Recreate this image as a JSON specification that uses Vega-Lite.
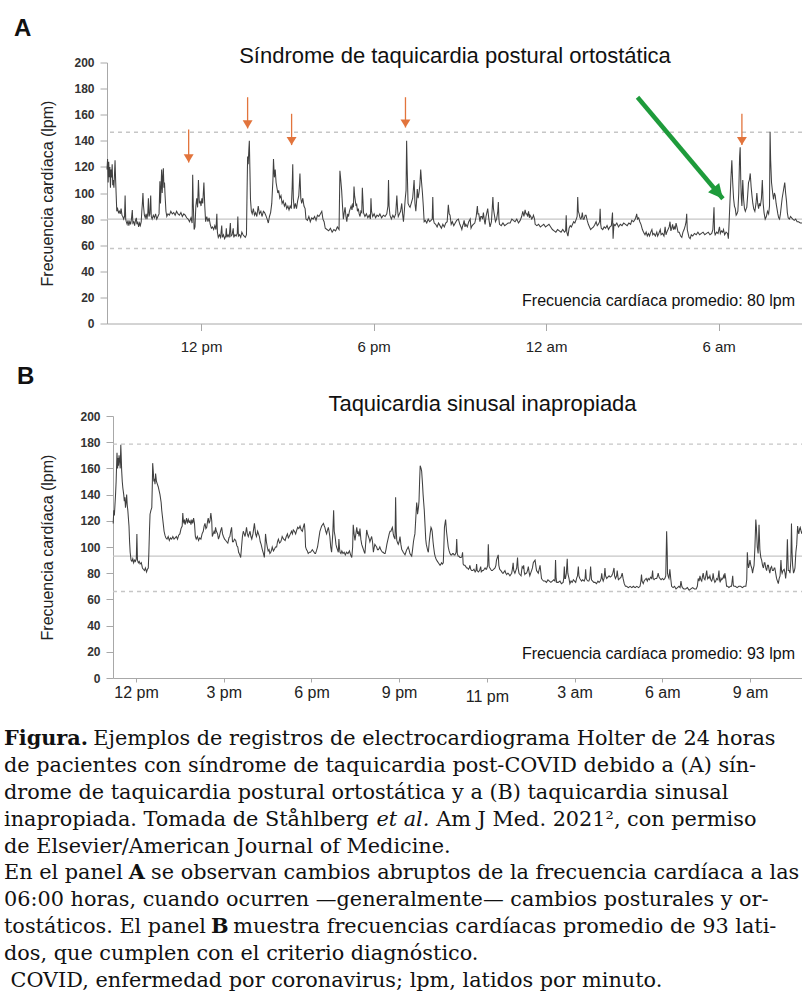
{
"$schema":"https://vega.github.io/schema/vega-lite/v6.json",
"background":"white",
"padding":{"left":4,"top":16.5,"right":0,"bottom":0},
"spacing":10.5,
"config":{"font":"Liberation Sans","view":{"stroke":null},"axis":{"grid":false,"domainColor":"#a8a8a8","tickColor":"#a8a8a8","labelColor":"#222222","titleColor":"#222222"}},
"datasets":{
"A":[{"h":8.73,"v":118},{"h":8.75,"v":126},{"h":8.77,"v":108},{"h":8.79,"v":124},{"h":8.81,"v":112},{"h":8.83,"v":120},{"h":8.85,"v":104},{"h":8.87,"v":118},{"h":8.89,"v":112},{"h":8.91,"v":122},{"h":8.93,"v":106},{"h":8.95,"v":110},{"h":8.97,"v":104},{"h":8.99,"v":114},{"h":9.01,"v":125},{"h":9.03,"v":110},{"h":9.05,"v":98},{"h":9.07,"v":86},{"h":9.10,"v":88},{"h":9.13,"v":85},{"h":9.16,"v":86},{"h":9.19,"v":84},{"h":9.22,"v":88},{"h":9.25,"v":83},{"h":9.28,"v":82},{"h":9.31,"v":80},{"h":9.34,"v":82},{"h":9.36,"v":98},{"h":9.38,"v":80},{"h":9.40,"v":78},{"h":9.43,"v":76},{"h":9.46,"v":79},{"h":9.49,"v":75},{"h":9.52,"v":78},{"h":9.55,"v":76},{"h":9.58,"v":80},{"h":9.61,"v":87},{"h":9.63,"v":77},{"h":9.66,"v":78},{"h":9.69,"v":75},{"h":9.72,"v":79},{"h":9.75,"v":81},{"h":9.77,"v":76},{"h":9.80,"v":78},{"h":9.83,"v":74},{"h":9.86,"v":77},{"h":9.89,"v":75},{"h":9.92,"v":78},{"h":9.94,"v":86},{"h":9.96,"v":92},{"h":9.98,"v":100},{"h":10.00,"v":90},{"h":10.03,"v":83},{"h":10.06,"v":81},{"h":10.09,"v":84},{"h":10.12,"v":80},{"h":10.15,"v":85},{"h":10.17,"v":96},{"h":10.19,"v":82},{"h":10.22,"v":84},{"h":10.25,"v":98},{"h":10.27,"v":82},{"h":10.30,"v":80},{"h":10.34,"v":83},{"h":10.38,"v":81},{"h":10.42,"v":84},{"h":10.46,"v":80},{"h":10.50,"v":82},{"h":10.54,"v":84},{"h":10.57,"v":109},{"h":10.59,"v":92},{"h":10.61,"v":104},{"h":10.63,"v":118},{"h":10.65,"v":100},{"h":10.67,"v":112},{"h":10.69,"v":119},{"h":10.71,"v":104},{"h":10.73,"v":108},{"h":10.75,"v":98},{"h":10.78,"v":86},{"h":10.81,"v":82},{"h":10.85,"v":84},{"h":10.90,"v":83},{"h":10.95,"v":86},{"h":11.00,"v":84},{"h":11.05,"v":85},{"h":11.10,"v":83},{"h":11.15,"v":86},{"h":11.20,"v":84},{"h":11.25,"v":83},{"h":11.30,"v":85},{"h":11.35,"v":82},{"h":11.40,"v":84},{"h":11.45,"v":83},{"h":11.50,"v":81},{"h":11.55,"v":80},{"h":11.60,"v":78},{"h":11.65,"v":81},{"h":11.69,"v":77},{"h":11.71,"v":114},{"h":11.73,"v":92},{"h":11.76,"v":72},{"h":11.79,"v":74},{"h":11.82,"v":90},{"h":11.85,"v":96},{"h":11.88,"v":89},{"h":11.91,"v":110},{"h":11.94,"v":92},{"h":11.97,"v":94},{"h":12.00,"v":90},{"h":12.03,"v":96},{"h":12.06,"v":92},{"h":12.10,"v":108},{"h":12.13,"v":90},{"h":12.16,"v":78},{"h":12.20,"v":82},{"h":12.24,"v":78},{"h":12.28,"v":81},{"h":12.32,"v":76},{"h":12.36,"v":73},{"h":12.40,"v":74},{"h":12.44,"v":72},{"h":12.48,"v":75},{"h":12.52,"v":72},{"h":12.55,"v":84},{"h":12.57,"v":70},{"h":12.60,"v":66},{"h":12.64,"v":68},{"h":12.68,"v":66},{"h":12.72,"v":75},{"h":12.74,"v":66},{"h":12.78,"v":68},{"h":12.82,"v":65},{"h":12.86,"v":67},{"h":12.88,"v":73},{"h":12.90,"v":66},{"h":12.94,"v":68},{"h":12.98,"v":66},{"h":13.02,"v":77},{"h":13.04,"v":67},{"h":13.08,"v":68},{"h":13.12,"v":73},{"h":13.14,"v":66},{"h":13.18,"v":68},{"h":13.22,"v":67},{"h":13.26,"v":69},{"h":13.28,"v":82},{"h":13.30,"v":67},{"h":13.34,"v":68},{"h":13.38,"v":66},{"h":13.42,"v":70},{"h":13.46,"v":68},{"h":13.50,"v":67},{"h":13.54,"v":66},{"h":13.58,"v":68},{"h":13.60,"v":100},{"h":13.62,"v":128},{"h":13.64,"v":122},{"h":13.66,"v":132},{"h":13.68,"v":140},{"h":13.70,"v":118},{"h":13.72,"v":95},{"h":13.75,"v":86},{"h":13.78,"v":84},{"h":13.82,"v":88},{"h":13.86,"v":83},{"h":13.90,"v":85},{"h":13.94,"v":82},{"h":13.99,"v":90},{"h":14.03,"v":84},{"h":14.08,"v":86},{"h":14.12,"v":82},{"h":14.17,"v":86},{"h":14.21,"v":85},{"h":14.25,"v":83},{"h":14.30,"v":80},{"h":14.34,"v":77},{"h":14.38,"v":82},{"h":14.42,"v":85},{"h":14.46,"v":92},{"h":14.50,"v":110},{"h":14.52,"v":126},{"h":14.55,"v":112},{"h":14.58,"v":118},{"h":14.61,"v":108},{"h":14.64,"v":104},{"h":14.67,"v":100},{"h":14.70,"v":102},{"h":14.74,"v":96},{"h":14.78,"v":98},{"h":14.82,"v":92},{"h":14.86,"v":94},{"h":14.90,"v":90},{"h":14.94,"v":92},{"h":14.98,"v":88},{"h":15.02,"v":90},{"h":15.06,"v":87},{"h":15.10,"v":90},{"h":15.14,"v":88},{"h":15.17,"v":105},{"h":15.19,"v":122},{"h":15.21,"v":96},{"h":15.24,"v":88},{"h":15.28,"v":92},{"h":15.32,"v":88},{"h":15.36,"v":94},{"h":15.40,"v":98},{"h":15.44,"v":115},{"h":15.47,"v":96},{"h":15.50,"v":92},{"h":15.54,"v":96},{"h":15.58,"v":90},{"h":15.62,"v":88},{"h":15.65,"v":80},{"h":15.70,"v":79},{"h":15.75,"v":82},{"h":15.80,"v":78},{"h":15.85,"v":81},{"h":15.90,"v":80},{"h":15.95,"v":82},{"h":16.00,"v":79},{"h":16.05,"v":83},{"h":16.10,"v":82},{"h":16.15,"v":84},{"h":16.20,"v":86},{"h":16.24,"v":80},{"h":16.28,"v":78},{"h":16.32,"v":73},{"h":16.38,"v":72},{"h":16.44,"v":71},{"h":16.50,"v":73},{"h":16.56,"v":70},{"h":16.62,"v":72},{"h":16.68,"v":71},{"h":16.74,"v":74},{"h":16.80,"v":72},{"h":16.83,"v":117},{"h":16.86,"v":110},{"h":16.89,"v":102},{"h":16.92,"v":90},{"h":16.95,"v":80},{"h":16.98,"v":85},{"h":17.01,"v":89},{"h":17.04,"v":82},{"h":17.07,"v":78},{"h":17.10,"v":84},{"h":17.13,"v":82},{"h":17.16,"v":86},{"h":17.19,"v":88},{"h":17.22,"v":90},{"h":17.25,"v":87},{"h":17.28,"v":92},{"h":17.30,"v":89},{"h":17.32,"v":105},{"h":17.34,"v":98},{"h":17.36,"v":95},{"h":17.39,"v":90},{"h":17.41,"v":92},{"h":17.44,"v":86},{"h":17.47,"v":88},{"h":17.50,"v":84},{"h":17.53,"v":82},{"h":17.56,"v":86},{"h":17.59,"v":85},{"h":17.61,"v":104},{"h":17.63,"v":95},{"h":17.65,"v":85},{"h":17.70,"v":82},{"h":17.75,"v":84},{"h":17.80,"v":81},{"h":17.85,"v":83},{"h":17.89,"v":80},{"h":17.91,"v":96},{"h":17.93,"v":86},{"h":17.97,"v":82},{"h":18.02,"v":84},{"h":18.07,"v":81},{"h":18.12,"v":83},{"h":18.17,"v":82},{"h":18.22,"v":84},{"h":18.28,"v":81},{"h":18.34,"v":83},{"h":18.40,"v":82},{"h":18.46,"v":84},{"h":18.50,"v":90},{"h":18.52,"v":110},{"h":18.54,"v":90},{"h":18.57,"v":83},{"h":18.62,"v":80},{"h":18.67,"v":83},{"h":18.72,"v":81},{"h":18.77,"v":84},{"h":18.81,"v":98},{"h":18.84,"v":86},{"h":18.86,"v":82},{"h":18.90,"v":84},{"h":18.94,"v":86},{"h":18.98,"v":92},{"h":19.01,"v":84},{"h":19.04,"v":78},{"h":19.07,"v":86},{"h":19.10,"v":95},{"h":19.13,"v":102},{"h":19.15,"v":140},{"h":19.17,"v":118},{"h":19.20,"v":92},{"h":19.24,"v":90},{"h":19.27,"v":89},{"h":19.31,"v":92},{"h":19.36,"v":96},{"h":19.41,"v":110},{"h":19.44,"v":92},{"h":19.47,"v":86},{"h":19.50,"v":95},{"h":19.52,"v":103},{"h":19.55,"v":96},{"h":19.58,"v":100},{"h":19.61,"v":106},{"h":19.64,"v":118},{"h":19.67,"v":108},{"h":19.70,"v":100},{"h":19.73,"v":90},{"h":19.76,"v":78},{"h":19.80,"v":79},{"h":19.85,"v":77},{"h":19.90,"v":80},{"h":19.95,"v":78},{"h":20.00,"v":79},{"h":20.04,"v":80},{"h":20.06,"v":97},{"h":20.08,"v":80},{"h":20.11,"v":77},{"h":20.16,"v":76},{"h":20.21,"v":74},{"h":20.26,"v":77},{"h":20.31,"v":75},{"h":20.36,"v":73},{"h":20.41,"v":76},{"h":20.46,"v":74},{"h":20.51,"v":77},{"h":20.56,"v":78},{"h":20.60,"v":91},{"h":20.63,"v":84},{"h":20.66,"v":83},{"h":20.70,"v":76},{"h":20.74,"v":78},{"h":20.79,"v":75},{"h":20.84,"v":77},{"h":20.89,"v":79},{"h":20.95,"v":80},{"h":21.00,"v":76},{"h":21.04,"v":74},{"h":21.07,"v":72},{"h":21.10,"v":75},{"h":21.12,"v":76},{"h":21.15,"v":79},{"h":21.18,"v":74},{"h":21.21,"v":76},{"h":21.26,"v":74},{"h":21.31,"v":78},{"h":21.36,"v":80},{"h":21.39,"v":73},{"h":21.43,"v":75},{"h":21.47,"v":76},{"h":21.52,"v":77},{"h":21.57,"v":82},{"h":21.61,"v":90},{"h":21.63,"v":84},{"h":21.66,"v":84},{"h":21.70,"v":78},{"h":21.73,"v":82},{"h":21.76,"v":82},{"h":21.79,"v":80},{"h":21.82,"v":85},{"h":21.86,"v":78},{"h":21.88,"v":76},{"h":21.91,"v":82},{"h":21.94,"v":85},{"h":21.97,"v":88},{"h":22.01,"v":80},{"h":22.05,"v":74},{"h":22.10,"v":78},{"h":22.15,"v":97},{"h":22.17,"v":88},{"h":22.19,"v":85},{"h":22.24,"v":78},{"h":22.28,"v":80},{"h":22.32,"v":86},{"h":22.34,"v":93},{"h":22.36,"v":80},{"h":22.38,"v":76},{"h":22.44,"v":75},{"h":22.50,"v":77},{"h":22.56,"v":75},{"h":22.62,"v":76},{"h":22.68,"v":77},{"h":22.75,"v":77},{"h":22.81,"v":80},{"h":22.86,"v":79},{"h":22.92,"v":78},{"h":22.98,"v":80},{"h":23.04,"v":77},{"h":23.10,"v":79},{"h":23.15,"v":82},{"h":23.19,"v":86},{"h":23.23,"v":82},{"h":23.27,"v":87},{"h":23.30,"v":84},{"h":23.33,"v":84},{"h":23.36,"v":82},{"h":23.39,"v":86},{"h":23.42,"v":81},{"h":23.44,"v":83},{"h":23.47,"v":82},{"h":23.50,"v":80},{"h":23.53,"v":81},{"h":23.56,"v":83},{"h":23.60,"v":80},{"h":23.62,"v":76},{"h":23.68,"v":75},{"h":23.74,"v":76},{"h":23.80,"v":74},{"h":23.86,"v":75},{"h":23.92,"v":76},{"h":23.98,"v":74},{"h":24.04,"v":75},{"h":24.10,"v":76},{"h":24.16,"v":74},{"h":24.22,"v":72},{"h":24.28,"v":71},{"h":24.34,"v":70},{"h":24.40,"v":72},{"h":24.46,"v":71},{"h":24.52,"v":70},{"h":24.58,"v":72},{"h":24.64,"v":70},{"h":24.68,"v":71},{"h":24.70,"v":83},{"h":24.72,"v":70},{"h":24.76,"v":67},{"h":24.80,"v":73},{"h":24.84,"v":75},{"h":24.88,"v":74},{"h":24.92,"v":76},{"h":24.96,"v":78},{"h":25.00,"v":77},{"h":25.05,"v":80},{"h":25.08,"v":82},{"h":25.10,"v":97},{"h":25.12,"v":86},{"h":25.15,"v":84},{"h":25.18,"v":81},{"h":25.21,"v":80},{"h":25.24,"v":82},{"h":25.26,"v":85},{"h":25.29,"v":80},{"h":25.32,"v":80},{"h":25.36,"v":83},{"h":25.39,"v":83},{"h":25.43,"v":79},{"h":25.47,"v":76},{"h":25.51,"v":74},{"h":25.55,"v":72},{"h":25.60,"v":73},{"h":25.65,"v":74},{"h":25.70,"v":76},{"h":25.74,"v":78},{"h":25.78,"v":75},{"h":25.82,"v":76},{"h":25.86,"v":78},{"h":25.88,"v":88},{"h":25.90,"v":76},{"h":25.92,"v":73},{"h":25.97,"v":72},{"h":26.02,"v":74},{"h":26.07,"v":73},{"h":26.12,"v":75},{"h":26.17,"v":72},{"h":26.22,"v":74},{"h":26.27,"v":75},{"h":26.31,"v":85},{"h":26.33,"v":65},{"h":26.36,"v":76},{"h":26.40,"v":75},{"h":26.46,"v":77},{"h":26.52,"v":74},{"h":26.58,"v":76},{"h":26.64,"v":75},{"h":26.70,"v":77},{"h":26.76,"v":76},{"h":26.82,"v":75},{"h":26.88,"v":77},{"h":26.94,"v":76},{"h":26.98,"v":79},{"h":27.04,"v":78},{"h":27.10,"v":80},{"h":27.13,"v":82},{"h":27.15,"v":84},{"h":27.18,"v":80},{"h":27.22,"v":81},{"h":27.26,"v":78},{"h":27.30,"v":76},{"h":27.35,"v":72},{"h":27.39,"v":70},{"h":27.44,"v":68},{"h":27.48,"v":70},{"h":27.52,"v":67},{"h":27.56,"v":69},{"h":27.60,"v":67},{"h":27.64,"v":70},{"h":27.68,"v":72},{"h":27.71,"v":68},{"h":27.75,"v":69},{"h":27.80,"v":67},{"h":27.85,"v":70},{"h":27.88,"v":67},{"h":27.92,"v":69},{"h":27.97,"v":72},{"h":28.00,"v":68},{"h":28.05,"v":69},{"h":28.10,"v":67},{"h":28.14,"v":74},{"h":28.17,"v":68},{"h":28.20,"v":70},{"h":28.24,"v":72},{"h":28.28,"v":74},{"h":28.31,"v":78},{"h":28.34,"v":71},{"h":28.37,"v":73},{"h":28.40,"v":76},{"h":28.43,"v":72},{"h":28.46,"v":74},{"h":28.49,"v":72},{"h":28.52,"v":77},{"h":28.55,"v":74},{"h":28.59,"v":70},{"h":28.63,"v":70},{"h":28.68,"v":67},{"h":28.72,"v":66},{"h":28.76,"v":70},{"h":28.80,"v":72},{"h":28.84,"v":75},{"h":28.87,"v":78},{"h":28.89,"v":84},{"h":28.91,"v":72},{"h":28.93,"v":70},{"h":28.97,"v":66},{"h":29.01,"v":65},{"h":29.05,"v":68},{"h":29.10,"v":67},{"h":29.16,"v":69},{"h":29.22,"v":68},{"h":29.28,"v":70},{"h":29.34,"v":68},{"h":29.40,"v":69},{"h":29.46,"v":70},{"h":29.52,"v":68},{"h":29.58,"v":69},{"h":29.64,"v":70},{"h":29.70,"v":68},{"h":29.76,"v":69},{"h":29.80,"v":72},{"h":29.84,"v":89},{"h":29.86,"v":70},{"h":29.88,"v":68},{"h":29.93,"v":70},{"h":29.98,"v":69},{"h":30.03,"v":74},{"h":30.06,"v":69},{"h":30.10,"v":71},{"h":30.14,"v":70},{"h":30.17,"v":72},{"h":30.21,"v":68},{"h":30.26,"v":70},{"h":30.31,"v":69},{"h":30.34,"v":65},{"h":30.37,"v":80},{"h":30.40,"v":96},{"h":30.43,"v":112},{"h":30.46,"v":125},{"h":30.49,"v":108},{"h":30.52,"v":96},{"h":30.55,"v":90},{"h":30.58,"v":88},{"h":30.61,"v":83},{"h":30.64,"v":84},{"h":30.67,"v":86},{"h":30.70,"v":100},{"h":30.73,"v":128},{"h":30.75,"v":135},{"h":30.77,"v":110},{"h":30.79,"v":96},{"h":30.81,"v":90},{"h":30.84,"v":110},{"h":30.87,"v":95},{"h":30.90,"v":88},{"h":30.93,"v":86},{"h":30.96,"v":88},{"h":30.98,"v":89},{"h":31.01,"v":98},{"h":31.04,"v":108},{"h":31.07,"v":110},{"h":31.10,"v":115},{"h":31.13,"v":105},{"h":31.16,"v":98},{"h":31.19,"v":92},{"h":31.22,"v":88},{"h":31.26,"v":86},{"h":31.30,"v":92},{"h":31.33,"v":100},{"h":31.36,"v":92},{"h":31.39,"v":88},{"h":31.42,"v":92},{"h":31.45,"v":90},{"h":31.49,"v":96},{"h":31.52,"v":110},{"h":31.55,"v":92},{"h":31.58,"v":85},{"h":31.62,"v":80},{"h":31.66,"v":82},{"h":31.70,"v":86},{"h":31.74,"v":84},{"h":31.77,"v":90},{"h":31.79,"v":147},{"h":31.81,"v":125},{"h":31.84,"v":108},{"h":31.88,"v":100},{"h":31.91,"v":95},{"h":31.94,"v":100},{"h":31.97,"v":98},{"h":32.00,"v":92},{"h":32.03,"v":88},{"h":32.06,"v":84},{"h":32.09,"v":81},{"h":32.12,"v":80},{"h":32.15,"v":84},{"h":32.18,"v":90},{"h":32.21,"v":96},{"h":32.24,"v":100},{"h":32.27,"v":104},{"h":32.30,"v":108},{"h":32.33,"v":100},{"h":32.36,"v":94},{"h":32.39,"v":85},{"h":32.42,"v":81},{"h":32.46,"v":80},{"h":32.50,"v":82},{"h":32.54,"v":81},{"h":32.58,"v":80},{"h":32.63,"v":79},{"h":32.68,"v":80},{"h":32.73,"v":78},{"h":32.78,"v":78},{"h":32.84,"v":77},{"h":32.90,"v":77}],
"B":[{"h":11.22,"v":118},{"h":11.24,"v":128},{"h":11.26,"v":124},{"h":11.28,"v":132},{"h":11.30,"v":140},{"h":11.32,"v":150},{"h":11.34,"v":165},{"h":11.35,"v":172},{"h":11.37,"v":160},{"h":11.39,"v":168},{"h":11.40,"v":162},{"h":11.42,"v":170},{"h":11.44,"v":166},{"h":11.46,"v":160},{"h":11.48,"v":178},{"h":11.49,"v":172},{"h":11.51,"v":158},{"h":11.53,"v":150},{"h":11.55,"v":145},{"h":11.58,"v":140},{"h":11.60,"v":135},{"h":11.62,"v":138},{"h":11.64,"v":130},{"h":11.66,"v":134},{"h":11.68,"v":140},{"h":11.70,"v":132},{"h":11.72,"v":128},{"h":11.74,"v":122},{"h":11.76,"v":116},{"h":11.78,"v":104},{"h":11.80,"v":96},{"h":11.83,"v":90},{"h":11.86,"v":89},{"h":11.89,"v":91},{"h":11.92,"v":88},{"h":11.95,"v":90},{"h":11.98,"v":89},{"h":12.01,"v":91},{"h":12.03,"v":110},{"h":12.05,"v":90},{"h":12.08,"v":88},{"h":12.11,"v":89},{"h":12.14,"v":87},{"h":12.18,"v":88},{"h":12.22,"v":84},{"h":12.25,"v":83},{"h":12.29,"v":82},{"h":12.32,"v":84},{"h":12.36,"v":81},{"h":12.39,"v":83},{"h":12.42,"v":84},{"h":12.44,"v":96},{"h":12.46,"v":112},{"h":12.48,"v":125},{"h":12.51,"v":128},{"h":12.54,"v":130},{"h":12.56,"v":150},{"h":12.57,"v":164},{"h":12.59,"v":158},{"h":12.61,"v":150},{"h":12.63,"v":152},{"h":12.65,"v":148},{"h":12.67,"v":156},{"h":12.70,"v":150},{"h":12.73,"v":148},{"h":12.76,"v":146},{"h":12.79,"v":143},{"h":12.82,"v":140},{"h":12.86,"v":134},{"h":12.88,"v":128},{"h":12.90,"v":124},{"h":12.93,"v":118},{"h":12.96,"v":112},{"h":12.99,"v":109},{"h":13.02,"v":107},{"h":13.06,"v":106},{"h":13.10,"v":108},{"h":13.14,"v":105},{"h":13.18,"v":107},{"h":13.22,"v":106},{"h":13.26,"v":108},{"h":13.30,"v":106},{"h":13.34,"v":107},{"h":13.38,"v":108},{"h":13.42,"v":106},{"h":13.46,"v":109},{"h":13.50,"v":110},{"h":13.54,"v":114},{"h":13.58,"v":116},{"h":13.60,"v":126},{"h":13.62,"v":120},{"h":13.64,"v":118},{"h":13.66,"v":121},{"h":13.68,"v":117},{"h":13.71,"v":120},{"h":13.73,"v":122},{"h":13.76,"v":118},{"h":13.79,"v":121},{"h":13.82,"v":119},{"h":13.85,"v":120},{"h":13.88,"v":117},{"h":13.91,"v":121},{"h":13.94,"v":118},{"h":13.97,"v":122},{"h":14.00,"v":118},{"h":14.03,"v":108},{"h":14.06,"v":106},{"h":14.10,"v":108},{"h":14.14,"v":105},{"h":14.18,"v":107},{"h":14.22,"v":106},{"h":14.26,"v":110},{"h":14.30,"v":112},{"h":14.33,"v":116},{"h":14.36,"v":118},{"h":14.39,"v":114},{"h":14.42,"v":115},{"h":14.45,"v":120},{"h":14.47,"v":122},{"h":14.50,"v":118},{"h":14.53,"v":120},{"h":14.56,"v":126},{"h":14.59,"v":120},{"h":14.61,"v":108},{"h":14.64,"v":110},{"h":14.67,"v":112},{"h":14.70,"v":110},{"h":14.72,"v":115},{"h":14.75,"v":112},{"h":14.79,"v":110},{"h":14.82,"v":106},{"h":14.85,"v":108},{"h":14.89,"v":112},{"h":14.93,"v":115},{"h":14.96,"v":110},{"h":14.99,"v":108},{"h":15.03,"v":106},{"h":15.07,"v":105},{"h":15.10,"v":104},{"h":15.14,"v":103},{"h":15.18,"v":107},{"h":15.21,"v":108},{"h":15.24,"v":112},{"h":15.27,"v":115},{"h":15.30,"v":104},{"h":15.33,"v":104},{"h":15.37,"v":106},{"h":15.41,"v":105},{"h":15.45,"v":101},{"h":15.48,"v":100},{"h":15.51,"v":96},{"h":15.55,"v":94},{"h":15.58,"v":92},{"h":15.61,"v":100},{"h":15.64,"v":108},{"h":15.67,"v":112},{"h":15.70,"v":110},{"h":15.73,"v":108},{"h":15.76,"v":112},{"h":15.78,"v":115},{"h":15.81,"v":110},{"h":15.84,"v":108},{"h":15.87,"v":110},{"h":15.90,"v":112},{"h":15.93,"v":108},{"h":15.96,"v":106},{"h":16.00,"v":110},{"h":16.05,"v":118},{"h":16.07,"v":114},{"h":16.09,"v":110},{"h":16.12,"v":108},{"h":16.16,"v":112},{"h":16.19,"v":110},{"h":16.22,"v":108},{"h":16.25,"v":104},{"h":16.28,"v":102},{"h":16.32,"v":98},{"h":16.36,"v":95},{"h":16.39,"v":92},{"h":16.41,"v":100},{"h":16.43,"v":110},{"h":16.46,"v":104},{"h":16.49,"v":100},{"h":16.52,"v":97},{"h":16.55,"v":98},{"h":16.58,"v":95},{"h":16.61,"v":96},{"h":16.64,"v":98},{"h":16.66,"v":100},{"h":16.70,"v":97},{"h":16.73,"v":98},{"h":16.77,"v":100},{"h":16.81,"v":100},{"h":16.84,"v":104},{"h":16.87,"v":106},{"h":16.91,"v":103},{"h":16.95,"v":104},{"h":16.98,"v":106},{"h":17.00,"v":108},{"h":17.05,"v":106},{"h":17.10,"v":105},{"h":17.14,"v":108},{"h":17.18,"v":110},{"h":17.21,"v":107},{"h":17.24,"v":108},{"h":17.28,"v":110},{"h":17.32,"v":112},{"h":17.35,"v":110},{"h":17.38,"v":113},{"h":17.42,"v":112},{"h":17.46,"v":110},{"h":17.50,"v":113},{"h":17.53,"v":115},{"h":17.57,"v":114},{"h":17.61,"v":116},{"h":17.65,"v":113},{"h":17.69,"v":112},{"h":17.72,"v":115},{"h":17.76,"v":118},{"h":17.78,"v":112},{"h":17.80,"v":100},{"h":17.83,"v":98},{"h":17.86,"v":97},{"h":17.89,"v":95},{"h":17.93,"v":96},{"h":17.97,"v":96},{"h":18.00,"v":97},{"h":18.03,"v":98},{"h":18.06,"v":97},{"h":18.09,"v":96},{"h":18.12,"v":95},{"h":18.14,"v":95},{"h":18.17,"v":97},{"h":18.21,"v":100},{"h":18.25,"v":106},{"h":18.29,"v":112},{"h":18.32,"v":114},{"h":18.35,"v":116},{"h":18.38,"v":117},{"h":18.41,"v":118},{"h":18.44,"v":116},{"h":18.46,"v":115},{"h":18.49,"v":112},{"h":18.52,"v":110},{"h":18.55,"v":113},{"h":18.58,"v":115},{"h":18.61,"v":111},{"h":18.63,"v":108},{"h":18.66,"v":100},{"h":18.69,"v":96},{"h":18.73,"v":110},{"h":18.76,"v":128},{"h":18.78,"v":112},{"h":18.81,"v":108},{"h":18.84,"v":102},{"h":18.86,"v":100},{"h":18.89,"v":98},{"h":18.92,"v":96},{"h":18.94,"v":106},{"h":18.96,"v":99},{"h":18.98,"v":96},{"h":19.01,"v":95},{"h":19.04,"v":97},{"h":19.08,"v":95},{"h":19.12,"v":96},{"h":19.16,"v":94},{"h":19.20,"v":96},{"h":19.25,"v":95},{"h":19.30,"v":97},{"h":19.34,"v":94},{"h":19.38,"v":92},{"h":19.41,"v":100},{"h":19.43,"v":117},{"h":19.46,"v":110},{"h":19.49,"v":105},{"h":19.52,"v":110},{"h":19.55,"v":115},{"h":19.58,"v":110},{"h":19.60,"v":112},{"h":19.63,"v":108},{"h":19.66,"v":114},{"h":19.69,"v":106},{"h":19.72,"v":102},{"h":19.75,"v":100},{"h":19.78,"v":98},{"h":19.81,"v":96},{"h":19.83,"v":95},{"h":19.86,"v":104},{"h":19.89,"v":113},{"h":19.92,"v":110},{"h":19.95,"v":108},{"h":19.98,"v":106},{"h":20.00,"v":104},{"h":20.03,"v":106},{"h":20.06,"v":108},{"h":20.09,"v":104},{"h":20.12,"v":96},{"h":20.15,"v":100},{"h":20.17,"v":102},{"h":20.20,"v":101},{"h":20.23,"v":100},{"h":20.26,"v":98},{"h":20.29,"v":98},{"h":20.32,"v":99},{"h":20.34,"v":100},{"h":20.37,"v":98},{"h":20.40,"v":97},{"h":20.43,"v":96},{"h":20.46,"v":96},{"h":20.49,"v":95},{"h":20.52,"v":95},{"h":20.55,"v":98},{"h":20.58,"v":102},{"h":20.61,"v":105},{"h":20.64,"v":108},{"h":20.66,"v":110},{"h":20.69,"v":112},{"h":20.72,"v":112},{"h":20.75,"v":114},{"h":20.77,"v":115},{"h":20.80,"v":110},{"h":20.82,"v":108},{"h":20.86,"v":106},{"h":20.88,"v":138},{"h":20.90,"v":112},{"h":20.92,"v":105},{"h":20.95,"v":103},{"h":20.97,"v":102},{"h":21.00,"v":104},{"h":21.03,"v":108},{"h":21.06,"v":102},{"h":21.09,"v":98},{"h":21.12,"v":97},{"h":21.14,"v":96},{"h":21.17,"v":95},{"h":21.20,"v":94},{"h":21.23,"v":96},{"h":21.26,"v":98},{"h":21.29,"v":99},{"h":21.31,"v":100},{"h":21.34,"v":98},{"h":21.37,"v":95},{"h":21.40,"v":94},{"h":21.43,"v":93},{"h":21.46,"v":98},{"h":21.49,"v":104},{"h":21.52,"v":108},{"h":21.54,"v":110},{"h":21.57,"v":122},{"h":21.60,"v":134},{"h":21.62,"v":130},{"h":21.63,"v":125},{"h":21.66,"v":130},{"h":21.68,"v":135},{"h":21.70,"v":150},{"h":21.72,"v":162},{"h":21.75,"v":160},{"h":21.77,"v":158},{"h":21.80,"v":148},{"h":21.82,"v":140},{"h":21.84,"v":134},{"h":21.86,"v":128},{"h":21.89,"v":115},{"h":21.91,"v":106},{"h":21.93,"v":102},{"h":21.95,"v":100},{"h":21.98,"v":97},{"h":22.00,"v":96},{"h":22.03,"v":104},{"h":22.06,"v":110},{"h":22.09,"v":115},{"h":22.11,"v":114},{"h":22.13,"v":112},{"h":22.16,"v":104},{"h":22.18,"v":100},{"h":22.21,"v":95},{"h":22.23,"v":93},{"h":22.26,"v":91},{"h":22.28,"v":90},{"h":22.31,"v":89},{"h":22.34,"v":88},{"h":22.37,"v":87},{"h":22.40,"v":86},{"h":22.43,"v":87},{"h":22.45,"v":88},{"h":22.48,"v":87},{"h":22.51,"v":88},{"h":22.53,"v":100},{"h":22.55,"v":115},{"h":22.57,"v":118},{"h":22.59,"v":121},{"h":22.62,"v":112},{"h":22.64,"v":108},{"h":22.66,"v":104},{"h":22.68,"v":100},{"h":22.71,"v":97},{"h":22.74,"v":95},{"h":22.77,"v":94},{"h":22.80,"v":94},{"h":22.83,"v":95},{"h":22.85,"v":95},{"h":22.88,"v":94},{"h":22.91,"v":94},{"h":22.95,"v":96},{"h":22.97,"v":106},{"h":22.99,"v":95},{"h":23.02,"v":93},{"h":23.05,"v":93},{"h":23.08,"v":92},{"h":23.12,"v":92},{"h":23.15,"v":93},{"h":23.17,"v":96},{"h":23.19,"v":87},{"h":23.22,"v":86},{"h":23.25,"v":86},{"h":23.28,"v":85},{"h":23.31,"v":84},{"h":23.34,"v":84},{"h":23.37,"v":83},{"h":23.40,"v":84},{"h":23.42,"v":86},{"h":23.45,"v":83},{"h":23.48,"v":82},{"h":23.52,"v":82},{"h":23.56,"v":83},{"h":23.60,"v":81},{"h":23.63,"v":82},{"h":23.65,"v":87},{"h":23.67,"v":82},{"h":23.71,"v":81},{"h":23.75,"v":82},{"h":23.79,"v":85},{"h":23.81,"v":81},{"h":23.85,"v":82},{"h":23.88,"v":82},{"h":23.91,"v":83},{"h":23.94,"v":84},{"h":23.97,"v":83},{"h":23.99,"v":83},{"h":24.03,"v":86},{"h":24.05,"v":102},{"h":24.07,"v":90},{"h":24.08,"v":85},{"h":24.13,"v":83},{"h":24.16,"v":82},{"h":24.19,"v":82},{"h":24.23,"v":83},{"h":24.28,"v":84},{"h":24.31,"v":86},{"h":24.33,"v":90},{"h":24.36,"v":92},{"h":24.39,"v":94},{"h":24.41,"v":86},{"h":24.44,"v":83},{"h":24.48,"v":82},{"h":24.51,"v":81},{"h":24.54,"v":80},{"h":24.56,"v":80},{"h":24.59,"v":81},{"h":24.62,"v":82},{"h":24.65,"v":80},{"h":24.68,"v":79},{"h":24.71,"v":80},{"h":24.73,"v":80},{"h":24.76,"v":79},{"h":24.79,"v":78},{"h":24.82,"v":79},{"h":24.85,"v":80},{"h":24.88,"v":84},{"h":24.90,"v":88},{"h":24.92,"v":82},{"h":24.96,"v":80},{"h":24.99,"v":82},{"h":25.02,"v":84},{"h":25.05,"v":92},{"h":25.07,"v":84},{"h":25.10,"v":80},{"h":25.13,"v":79},{"h":25.17,"v":78},{"h":25.19,"v":82},{"h":25.21,"v":85},{"h":25.24,"v":84},{"h":25.26,"v":86},{"h":25.28,"v":81},{"h":25.30,"v":79},{"h":25.33,"v":80},{"h":25.36,"v":80},{"h":25.39,"v":82},{"h":25.42,"v":85},{"h":25.45,"v":80},{"h":25.47,"v":78},{"h":25.50,"v":80},{"h":25.53,"v":82},{"h":25.56,"v":84},{"h":25.59,"v":88},{"h":25.62,"v":89},{"h":25.65,"v":90},{"h":25.68,"v":85},{"h":25.70,"v":82},{"h":25.73,"v":81},{"h":25.76,"v":80},{"h":25.79,"v":83},{"h":25.82,"v":86},{"h":25.85,"v":80},{"h":25.87,"v":76},{"h":25.90,"v":75},{"h":25.94,"v":74},{"h":25.99,"v":74},{"h":26.04,"v":73},{"h":26.09,"v":75},{"h":26.14,"v":74},{"h":26.19,"v":73},{"h":26.24,"v":74},{"h":26.29,"v":75},{"h":26.33,"v":74},{"h":26.35,"v":90},{"h":26.37,"v":76},{"h":26.39,"v":73},{"h":26.44,"v":73},{"h":26.50,"v":74},{"h":26.55,"v":72},{"h":26.61,"v":73},{"h":26.63,"v":76},{"h":26.65,"v":85},{"h":26.67,"v":76},{"h":26.69,"v":76},{"h":26.72,"v":80},{"h":26.75,"v":91},{"h":26.77,"v":80},{"h":26.79,"v":78},{"h":26.81,"v":76},{"h":26.84,"v":72},{"h":26.88,"v":74},{"h":26.92,"v":73},{"h":26.96,"v":75},{"h":27.00,"v":74},{"h":27.04,"v":73},{"h":27.07,"v":76},{"h":27.10,"v":78},{"h":27.13,"v":85},{"h":27.15,"v":78},{"h":27.18,"v":76},{"h":27.21,"v":75},{"h":27.24,"v":74},{"h":27.28,"v":75},{"h":27.33,"v":74},{"h":27.36,"v":76},{"h":27.38,"v":83},{"h":27.40,"v":76},{"h":27.42,"v":75},{"h":27.46,"v":74},{"h":27.49,"v":74},{"h":27.52,"v":76},{"h":27.55,"v":85},{"h":27.57,"v":78},{"h":27.58,"v":75},{"h":27.62,"v":74},{"h":27.66,"v":73},{"h":27.70,"v":73},{"h":27.75,"v":72},{"h":27.80,"v":74},{"h":27.84,"v":73},{"h":27.88,"v":74},{"h":27.91,"v":76},{"h":27.93,"v":80},{"h":27.95,"v":76},{"h":27.98,"v":74},{"h":28.01,"v":76},{"h":28.04,"v":84},{"h":28.06,"v":78},{"h":28.10,"v":76},{"h":28.14,"v":77},{"h":28.18,"v":78},{"h":28.22,"v":77},{"h":28.27,"v":78},{"h":28.31,"v":80},{"h":28.35,"v":84},{"h":28.37,"v":78},{"h":28.40,"v":76},{"h":28.44,"v":78},{"h":28.46,"v":82},{"h":28.48,"v":78},{"h":28.50,"v":75},{"h":28.55,"v":76},{"h":28.59,"v":77},{"h":28.63,"v":80},{"h":28.66,"v":76},{"h":28.70,"v":72},{"h":28.74,"v":70},{"h":28.78,"v":70},{"h":28.84,"v":69},{"h":28.90,"v":70},{"h":28.96,"v":69},{"h":29.01,"v":70},{"h":29.07,"v":69},{"h":29.13,"v":70},{"h":29.19,"v":69},{"h":29.24,"v":70},{"h":29.27,"v":74},{"h":29.29,"v":79},{"h":29.31,"v":74},{"h":29.35,"v":72},{"h":29.38,"v":74},{"h":29.41,"v":75},{"h":29.45,"v":76},{"h":29.49,"v":74},{"h":29.52,"v":76},{"h":29.56,"v":75},{"h":29.60,"v":77},{"h":29.64,"v":76},{"h":29.67,"v":82},{"h":29.69,"v":76},{"h":29.72,"v":75},{"h":29.76,"v":76},{"h":29.81,"v":76},{"h":29.84,"v":78},{"h":29.86,"v":80},{"h":29.89,"v":77},{"h":29.92,"v":76},{"h":29.96,"v":75},{"h":30.00,"v":76},{"h":30.05,"v":75},{"h":30.09,"v":76},{"h":30.12,"v":78},{"h":30.15,"v":112},{"h":30.17,"v":96},{"h":30.18,"v":80},{"h":30.21,"v":77},{"h":30.23,"v":76},{"h":30.26,"v":83},{"h":30.29,"v":76},{"h":30.32,"v":70},{"h":30.37,"v":69},{"h":30.42,"v":70},{"h":30.47,"v":68},{"h":30.52,"v":69},{"h":30.57,"v":70},{"h":30.61,"v":69},{"h":30.64,"v":74},{"h":30.67,"v":70},{"h":30.69,"v":69},{"h":30.74,"v":68},{"h":30.80,"v":68},{"h":30.86,"v":69},{"h":30.92,"v":67},{"h":30.98,"v":68},{"h":31.04,"v":69},{"h":31.10,"v":68},{"h":31.16,"v":68},{"h":31.20,"v":70},{"h":31.23,"v":76},{"h":31.26,"v":74},{"h":31.29,"v":78},{"h":31.32,"v":75},{"h":31.35,"v":74},{"h":31.38,"v":78},{"h":31.40,"v":80},{"h":31.43,"v":76},{"h":31.46,"v":75},{"h":31.49,"v":78},{"h":31.52,"v":82},{"h":31.55,"v":76},{"h":31.57,"v":77},{"h":31.60,"v":76},{"h":31.63,"v":78},{"h":31.66,"v":75},{"h":31.69,"v":74},{"h":31.72,"v":76},{"h":31.74,"v":80},{"h":31.77,"v":75},{"h":31.80,"v":73},{"h":31.83,"v":74},{"h":31.86,"v":76},{"h":31.90,"v":75},{"h":31.94,"v":82},{"h":31.96,"v":75},{"h":31.98,"v":73},{"h":32.01,"v":76},{"h":32.03,"v":75},{"h":32.07,"v":76},{"h":32.10,"v":78},{"h":32.12,"v":76},{"h":32.14,"v":80},{"h":32.17,"v":76},{"h":32.20,"v":70},{"h":32.24,"v":70},{"h":32.28,"v":69},{"h":32.33,"v":70},{"h":32.37,"v":70},{"h":32.41,"v":78},{"h":32.43,"v":71},{"h":32.45,"v":70},{"h":32.50,"v":70},{"h":32.56,"v":69},{"h":32.62,"v":70},{"h":32.68,"v":70},{"h":32.74,"v":69},{"h":32.80,"v":70},{"h":32.86,"v":70},{"h":32.89,"v":75},{"h":32.91,"v":96},{"h":32.93,"v":88},{"h":32.95,"v":84},{"h":32.97,"v":86},{"h":33.00,"v":90},{"h":33.03,"v":86},{"h":33.06,"v":84},{"h":33.09,"v":80},{"h":33.11,"v":83},{"h":33.14,"v":86},{"h":33.17,"v":100},{"h":33.20,"v":121},{"h":33.22,"v":115},{"h":33.23,"v":110},{"h":33.25,"v":100},{"h":33.28,"v":95},{"h":33.31,"v":117},{"h":33.33,"v":104},{"h":33.34,"v":98},{"h":33.37,"v":92},{"h":33.40,"v":90},{"h":33.43,"v":86},{"h":33.46,"v":84},{"h":33.49,"v":88},{"h":33.51,"v":88},{"h":33.54,"v":84},{"h":33.57,"v":82},{"h":33.60,"v":86},{"h":33.63,"v":86},{"h":33.66,"v":82},{"h":33.68,"v":80},{"h":33.71,"v":84},{"h":33.74,"v":85},{"h":33.77,"v":82},{"h":33.80,"v":82},{"h":33.83,"v":84},{"h":33.85,"v":84},{"h":33.88,"v":80},{"h":33.91,"v":76},{"h":33.94,"v":74},{"h":33.97,"v":72},{"h":34.00,"v":76},{"h":34.03,"v":78},{"h":34.05,"v":86},{"h":34.06,"v":90},{"h":34.08,"v":82},{"h":34.10,"v":80},{"h":34.13,"v":82},{"h":34.17,"v":83},{"h":34.20,"v":80},{"h":34.22,"v":76},{"h":34.25,"v":82},{"h":34.28,"v":106},{"h":34.30,"v":90},{"h":34.31,"v":82},{"h":34.34,"v":82},{"h":34.37,"v":80},{"h":34.40,"v":90},{"h":34.42,"v":118},{"h":34.44,"v":96},{"h":34.46,"v":86},{"h":34.49,"v":80},{"h":34.52,"v":82},{"h":34.54,"v":84},{"h":34.57,"v":96},{"h":34.60,"v":102},{"h":34.63,"v":116},{"h":34.65,"v":112},{"h":34.67,"v":110},{"h":34.70,"v":114},{"h":34.72,"v":115},{"h":34.75,"v":112},{"h":34.78,"v":110}],
"refA":[{"v":80,"kind":"promedio"},{"v":146.5,"kind":"límite"},{"v":57.5,"kind":"límite"}],
"refB":[{"v":93,"kind":"promedio"},{"v":178.5,"kind":"límite"},{"v":66,"kind":"límite"}],
"arrowsA":[{"h":11.57,"v":148.7,"v2":123.4},{"h":13.62,"v":173.4,"v2":149.5},{"h":15.15,"v":160.7,"v2":136.7},{"h":19.11,"v":173.4,"v2":150.2},{"h":30.81,"v":160.7,"v2":136.7}],
"greenA":[{"h":27.18,"v":173.4,"h2":30.15,"v2":95.6}],
"noteA":[{"label":"Frecuencia cardíaca promedio: 80 lpm","h":32.66,"v":17.6}],
"noteB":[{"label":"Frecuencia cardíaca promedio: 93 lpm","h":34.54,"v":18.3}],
"caption":[{"line":1,"part":"b1","text":"Figura."},{"line":1,"part":"r1","text":"Ejemplos de registros de electrocardiograma Holter de 24 horas"},{"line":2,"part":"r0","text":"de pacientes con síndrome de taquicardia post-COVID debido a (A) sín-"},{"line":3,"part":"r0","text":"drome de taquicardia postural ortostática y a (B) taquicardia sinusal"},{"line":4,"part":"r0","text":"inapropiada. Tomada de Ståhlberg"},{"line":4,"part":"i4","text":"et al."},{"line":4,"part":"r4","text":"Am J Med. 2021², con permiso"},{"line":5,"part":"r0","text":"de Elsevier/American Journal of Medicine."},{"line":6,"part":"r0","text":"En el panel"},{"line":6,"part":"b6","text":"A"},{"line":6,"part":"r6","text":"se observan cambios abruptos de la frecuencia cardíaca a las"},{"line":7,"part":"r0","text":"06:00 horas, cuando ocurren —generalmente— cambios posturales y or-"},{"line":8,"part":"r0","text":"tostáticos. El panel"},{"line":8,"part":"b8","text":"B"},{"line":8,"part":"r8","text":"muestra frecuencias cardíacas promedio de 93 lati-"},{"line":9,"part":"r0","text":"dos, que cumplen con el criterio diagnóstico."},{"line":10,"part":"r10","text":"COVID, enfermedad por coronavirus; lpm, latidos por minuto."}]
},
"vconcat":[
{
"width":695,"height":261,
"title":{"text":"A","anchor":"start","frame":"group","dx":-93,"fontSize":24,"fontWeight":"bold","font":"Liberation Sans","color":"#111111","offset":3.5},
"encoding":{"y":{"field":"v","type":"quantitative","scale":{"domain":[0,200],"nice":false},"axis":{"values":[0,20,40,60,80,100,120,140,160,180,200],"title":"Frecuencia cardíaca (lpm)","titleFontSize":16,"titleFontWeight":"normal","titlePadding":18,"labelFontSize":12,"labelFontWeight":"bold","labelColor":"#333333","tickSize":7,"labelPadding":6}}},
"layer":[
{"data":{"name":"refA"},"mark":{"type":"rule","color":"#c6c6c6","strokeWidth":1.4},"encoding":{"strokeDash":{"field":"kind","type":"nominal","scale":{"domain":["promedio","límite"],"range":[[1,0],[4,4]]},"legend":null}}},
{"data":{"name":"A"},"mark":{"type":"line","color":"#404040","strokeWidth":1.05},"encoding":{"x":{"field":"h","type":"quantitative","scale":{"domain":[8.73,32.9],"nice":false,"zero":false},"axis":{"values":[12,18,24,30],"labelExpr":"datum.value === 12 ? '12 pm' : datum.value === 18 ? '6 pm' : datum.value === 24 ? '12 am' : '6 am'","title":null,"tickSize":7,"labelPadding":9,"labelFontSize":15,"labelColor":"#222222"}}}},
{"data":{"name":"arrowsA"},"mark":{"type":"rule","color":"#E2743C","strokeWidth":1.3},"encoding":{"x":{"field":"h","type":"quantitative","axis":null},"y2":{"field":"v2"}}},
{"data":{"name":"arrowsA"},"mark":{"type":"point","shape":"M -0.55 -0.9 L 0.55 -0.9 L 0 0 Z","filled":true,"size":324,"color":"#E2743C","opacity":1,"strokeWidth":0},"encoding":{"x":{"field":"h","type":"quantitative","axis":null},"y":{"field":"v2","type":"quantitative"}}},
{"data":{"name":"greenA"},"mark":{"type":"rule","color":"#1E9B3B","strokeWidth":4.5},"encoding":{"x":{"field":"h","type":"quantitative","axis":null},"x2":{"field":"h2"},"y2":{"field":"v2"}}},
{"data":{"name":"greenA"},"mark":{"type":"point","shape":"M -0.5 -1 L 0.5 -1 L 0 0 Z","filled":true,"size":841,"angle":-40,"color":"#1E9B3B","opacity":1,"strokeWidth":0},"encoding":{"x":{"field":"h2","type":"quantitative","axis":null},"y":{"field":"v2","type":"quantitative"}}},
{"data":{"name":"noteA"},"mark":{"type":"text","align":"right","baseline":"middle","fontSize":16,"color":"#111111"},"encoding":{"x":{"field":"h","type":"quantitative","axis":{"orient":"top","title":"Síndrome de taquicardia postural ortostática","ticks":false,"labels":false,"domain":false,"titleFontSize":22,"titleFontWeight":"normal","titleColor":"#111111","titlePadding":0,"titleBaseline":"alphabetic"}},"text":{"field":"label"}}}
],
"resolve":{"axis":{"x":"independent"}}
},
{
"width":695,"height":262,
"title":{"text":"B","anchor":"start","frame":"group","dx":-90,"fontSize":24,"fontWeight":"bold","font":"Liberation Sans","color":"#111111","offset":3},
"encoding":{"y":{"field":"v","type":"quantitative","scale":{"domain":[0,200],"nice":false},"axis":{"values":[0,20,40,60,80,100,120,140,160,180,200],"title":"Frecuencia cardíaca (lpm)","titleFontSize":16,"titleFontWeight":"normal","titlePadding":24,"labelFontSize":12,"labelFontWeight":"bold","labelColor":"#333333","tickSize":7,"labelPadding":6,"offset":-6}}},
"layer":[
{"data":{"name":"refB"},"mark":{"type":"rule","color":"#c6c6c6","strokeWidth":1.4},"encoding":{"x":{"datum":11.213,"type":"quantitative","axis":null},"x2":{"datum":34.78},"strokeDash":{"field":"kind","type":"nominal","scale":{"domain":["promedio","límite"],"range":[[1,0],[4,4]]},"legend":null}}},
{"data":{"name":"B"},"mark":{"type":"line","color":"#404040","strokeWidth":1.05},"encoding":{"x":{"field":"h","type":"quantitative","scale":{"domain":[11.213,34.78],"range":[6,695],"nice":false,"zero":false},"axis":{"values":[12,15,18,21,24,27,30,33],"labelExpr":"datum.value === 12 ? '12 pm' : datum.value === 15 ? '3 pm' : datum.value === 18 ? '6 pm' : datum.value === 21 ? '9 pm' : datum.value === 24 ? '11 pm' : datum.value === 27 ? '3 am' : datum.value === 30 ? '6 am' : '9 am'","title":null,"tickSize":4,"labelPadding":{"condition":{"test":"datum.value === 24","value":6},"value":2},"labelFontSize":16,"labelColor":"#222222"}}}},
{"data":{"name":"noteB"},"mark":{"type":"text","align":"right","baseline":"middle","fontSize":16,"color":"#111111"},"encoding":{"x":{"field":"h","type":"quantitative","axis":{"orient":"top","title":"Taquicardia sinusal inapropiada","ticks":false,"labels":false,"domain":false,"titleFontSize":22,"titleFontWeight":"normal","titleColor":"#111111","titlePadding":6,"titleBaseline":"alphabetic","titleX":375}},"text":{"field":"label"}}}
],
"resolve":{"axis":{"x":"independent"}}
},
{
"width":695,"height":291,
"data":{"name":"caption"},
"encoding":{"y":{"field":"line","type":"ordinal","axis":null,"scale":{"type":"point","padding":0.889}},"x":{"value":0},"text":{"field":"text"}},
"layer":[
{"transform":[{"filter":"datum.part === 'r0'"}],"mark":{"type":"text","align":"left","baseline":"middle","dx":-103,"font":"DejaVu Serif","fontSize":20.8,"color":"#111111"}},
{"transform":[{"filter":"datum.part === 'r10'"}],"mark":{"type":"text","align":"left","baseline":"middle","dx":-96.5,"font":"DejaVu Serif","fontSize":20.8,"color":"#111111"}},
{"transform":[{"filter":"datum.part === 'b1'"}],"mark":{"type":"text","align":"left","baseline":"middle","dx":-103,"font":"DejaVu Serif","fontSize":20.8,"fontWeight":"bold","color":"#111111"}},
{"transform":[{"filter":"datum.part === 'r1'"}],"mark":{"type":"text","align":"left","baseline":"middle","dx":-13.7,"font":"DejaVu Serif","fontSize":20.8,"color":"#111111"}},
{"transform":[{"filter":"datum.part === 'i4'"}],"mark":{"type":"text","align":"left","baseline":"middle","dx":269.4,"font":"DejaVu Serif","fontSize":20.8,"fontStyle":"italic","color":"#111111"}},
{"transform":[{"filter":"datum.part === 'r4'"}],"mark":{"type":"text","align":"left","baseline":"middle","dx":329.2,"font":"DejaVu Serif","fontSize":20.8,"color":"#111111"}},
{"transform":[{"filter":"datum.part === 'b6'"}],"mark":{"type":"text","align":"left","baseline":"middle","dx":21.8,"font":"DejaVu Serif","fontSize":20.8,"fontWeight":"bold","color":"#111111"}},
{"transform":[{"filter":"datum.part === 'r6'"}],"mark":{"type":"text","align":"left","baseline":"middle","dx":44.1,"font":"DejaVu Serif","fontSize":20.8,"color":"#111111"}},
{"transform":[{"filter":"datum.part === 'b8'"}],"mark":{"type":"text","align":"left","baseline":"middle","dx":104,"font":"DejaVu Serif","fontSize":20.8,"fontWeight":"bold","color":"#111111"}},
{"transform":[{"filter":"datum.part === 'r8'"}],"mark":{"type":"text","align":"left","baseline":"middle","dx":126.3,"font":"DejaVu Serif","fontSize":20.8,"color":"#111111"}}
]
}
]
}
